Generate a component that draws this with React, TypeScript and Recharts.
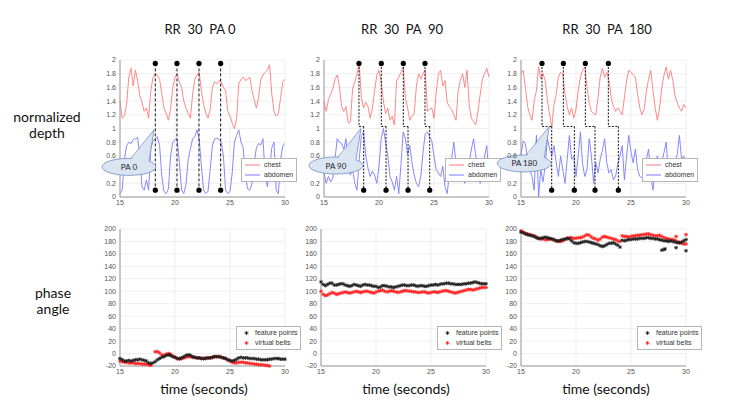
import React from 'react';
import {
  LineChart, Line, ScatterChart, Scatter, XAxis, YAxis, CartesianGrid,
  ReferenceLine, ReferenceDot, Legend,
} from 'recharts';

// sample times in seconds, shared by every trace
const time = [
  15, 15.2, 15.4, 15.6, 15.8, 16, 16.2, 16.4, 16.6, 16.8,
  17, 17.2, 17.4, 17.6, 17.8, 18, 18.2, 18.4, 18.6, 18.8,
  19, 19.2, 19.4, 19.6, 19.8, 20, 20.2, 20.4, 20.6, 20.8,
  21, 21.2, 21.4, 21.6, 21.8, 22, 22.2, 22.4, 22.6, 22.8,
  23, 23.2, 23.4, 23.6, 23.8, 24, 24.2, 24.4, 24.6, 24.8,
  25, 25.2, 25.4, 25.6, 25.8, 26, 26.2, 26.4, 26.6, 26.8,
  27, 27.2, 27.4, 27.6, 27.8, 28, 28.2, 28.4, 28.6, 28.8,
  29, 29.2, 29.4, 29.6, 29.8, 30,
];

const timeTicks = [15, 20, 25, 30];
const depthTicks = [0, 0.2, 0.4, 0.6, 0.8, 1, 1.2, 1.4, 1.6, 1.8, 2];
const angleTicks = [-20, 0, 20, 40, 60, 80, 100, 120, 140, 160, 180, 200];
// depth tick whose label sits under the callout bubble
const coveredDepthTick = 0.4;

// normalized depth, PA 0
const pa0Chest = [
  1.40, 1.15, 1.18, 1.35, 1.75, 1.88, 1.62, 1.85, 1.70, 1.48,
  1.38, 1.25, 1.30, 1.15, 1.55, 1.75, 1.80, 1.78, 1.72, 1.50,
  1.30, 1.22, 1.12, 1.28, 1.60, 1.75, 1.80, 1.68, 1.60, 1.40,
  1.30, 1.22, 1.15, 1.50, 1.72, 1.78, 1.82, 1.55, 1.35, 1.22,
  1.15, 1.28, 1.60, 1.68, 1.65, 1.70, 1.68, 1.60, 1.55, 1.25,
  1.18, 1.08, 1.00, 1.15, 1.65, 1.72, 1.75, 1.70, 1.72, 1.75,
  1.55, 1.42, 1.30, 1.45, 1.72, 1.78, 1.82, 1.85, 1.93, 1.50,
  1.25, 1.18, 1.22, 1.45, 1.68, 1.72,
];
const pa0Abdomen = [
  0.05, 0.10, 0.55, 0.75, 0.80, 0.78, 0.84, 0.85, 0.87, 0.60,
  0.15, 0.10, 0.25, 0.10, 0.70, 0.82, 0.85, 0.88, 0.75, 0.30,
  0.08, 0.05, 0.12, 0.60, 0.80, 0.84, 0.85, 0.50, 0.10, 0.05,
  0.18, 0.55, 0.70, 0.85, 0.88, 0.98, 0.85, 0.45, 0.10, 0.05,
  0.08, 0.40, 0.75, 0.85, 0.86, 0.84, 0.80, 0.60, 0.10, 0.05,
  0.08, 0.35, 0.80, 0.90, 0.98, 0.80, 0.72, 0.30, 0.12, 0.10,
  0.20, 0.50, 0.72, 0.78, 0.76, 0.85, 0.30, 0.15, 0.40, 0.72,
  0.80, 0.10, 0.05, 0.55, 0.75, 0.78,
];

// normalized depth, PA 90
const pa90Chest = [
  1.40, 1.25, 1.42, 1.50, 1.58, 1.72, 1.78, 1.62, 1.32, 1.25,
  1.32, 1.08, 1.10, 1.58, 1.68, 1.80, 1.95, 1.45, 1.30, 1.38,
  1.32, 1.15, 1.30, 1.55, 1.78, 1.85, 1.68, 1.40, 1.22, 1.30,
  1.12, 1.18, 1.05, 1.70, 1.75, 1.82, 1.90, 1.45, 1.30, 1.12,
  1.18, 1.22, 1.62, 1.80, 1.72, 1.80, 1.86, 1.25, 1.28, 1.30,
  1.15, 1.52, 1.80, 1.85, 1.62, 1.70, 1.38, 1.32, 1.28, 1.20,
  1.12, 1.55, 1.70, 1.80, 1.60, 1.85, 1.35, 1.15, 1.10, 1.05,
  1.25, 1.50, 1.72, 1.80, 1.88, 1.75,
];
const pa90Abdomen = [
  0.35, 0.20, 0.30, 0.22, 0.28, 0.55, 0.85, 0.80, 0.78, 0.70,
  0.85, 0.45, 0.32, 0.40, 0.20, 0.10, 0.55, 0.90, 0.95, 0.60,
  0.42, 0.30, 0.38, 0.32, 0.20, 0.45, 0.85, 1.00, 0.80, 0.60,
  0.30, 0.22, 0.10, 0.30, 0.05, 0.48, 0.95, 0.85, 0.62, 0.75,
  0.50, 0.32, 0.20, 0.15, 0.30, 0.65, 0.92, 0.95, 0.88, 0.82,
  0.60, 0.40, 0.35, 0.30, 0.45, 0.15, 0.05, 0.35, 0.55, 0.80,
  0.50, 0.35, 0.30, 0.45, 0.20, 0.35, 0.50, 0.70, 0.85, 0.60,
  0.30, 0.20, 0.28, 0.60, 0.75, 0.25,
];

// normalized depth, PA 180
const pa180Chest = [
  1.80, 1.85, 1.60, 1.32, 1.20, 1.12, 1.40, 1.55, 1.90, 1.72,
  1.80, 1.70, 1.42, 1.20, 1.02, 1.35, 1.50, 1.75, 1.82, 1.80,
  1.50, 1.32, 1.20, 1.30, 1.15, 1.28, 1.55, 1.75, 1.85, 1.90,
  1.60, 1.38, 1.25, 1.22, 1.20, 1.45, 1.75, 1.88, 1.75, 1.82,
  1.70, 1.45, 1.32, 1.25, 1.30, 1.25, 1.20, 1.45, 1.70, 1.85,
  1.82, 1.78, 1.75, 1.50, 1.30, 1.20, 1.28, 1.55, 1.72, 1.85,
  1.55, 1.30, 1.12, 1.30, 1.60, 1.78, 1.90, 1.72, 1.85, 1.70,
  1.48, 1.38, 1.30, 1.25, 1.35, 1.30,
];
const pa180Abdomen = [
  0.60, 0.82, 0.78, 0.55, 0.40, 0.30, 0.10, 0.90, 0.00, 0.40,
  0.22, 0.45, 0.85, 0.70, 0.60, 0.75, 0.50, 0.30, 0.60, 0.40,
  0.20, 0.55, 0.90, 0.55, 0.60, 0.30, 0.60, 0.95, 0.48, 0.30,
  0.40, 0.85, 0.60, 0.20, 0.50, 0.35, 0.55, 0.68, 0.85, 0.50,
  0.35, 0.40, 0.25, 0.30, 0.48, 0.60, 0.75, 0.25, 0.60, 0.90,
  0.65, 0.50, 0.70, 0.40, 0.30, 0.28, 0.25, 0.55, 0.70, 0.30,
  0.10, 0.50, 0.60, 0.35, 0.50, 0.65, 0.80, 0.35, 0.45, 0.30,
  0.50, 0.62, 0.90, 0.55, 0.60, 0.45,
];

// breath markers: times of the dots on top (chest) and bottom (abdomen)
const pa0TopMarks = [18.21, 20.18, 22.18, 24.15];
const pa0BottomMarks = [18.21, 20.18, 22.18, 24.15];
const pa90TopMarks = [18.18, 20.21, 22.21, 24.18];
const pa90BottomMarks = [18.61, 20.64, 22.64, 24.61];
const pa180TopMarks = [16.91, 18.85, 20.85, 22.94];
const pa180BottomMarks = [17.79, 19.85, 21.73, 23.85];

// phase angle, PA 0
const pa0Feature = [
  -8, -10, -12, -12, -11, -12, -11, -10, -10, -9,
  -10, -11, -12, -15, -16, -15, -13, -10, -8, -6,
  -5, -3, -2, -3, -5, -6, -8, -8, -7, -5,
  -3, -2, -3, -5, -6, -7, -7, -8, -8, -8,
  -7, -7, -6, -5, -5, -5, -6, -7, -8, -10,
  -11, -12, -11, -9, -7, -6, -7, -7, -7, -8,
  -8, -8, -9, -9, -10, -10, -10, -10, -9, -9,
  -8, -8, -8, -9, -9, -9,
];
const pa0Belt = [
  -12, -13, -14, -14, -15, -15, -15, -16, -16, -16,
  -17, -17, -17, -18, -19, null, 3, 3, 1, -2,
  -3, -1, 0, -1, -4, -6, -8, -9, -8, -7,
  -6, -5, -5, -6, -6, -7, -7, -8, -8, -7,
  -7, -7, -6, -5, -5, -5, -6, -7, -8, -10,
  -12, -14, -15, -15, -14, -14, -14, -15, -15, -16,
  -16, -17, -17, -18, -18, -18, -19, -19, -20, null,
  null, null, null, null, null, null,
];

// phase angle, PA 90
const pa90Feature = [
  115, 111, 109, 111, 113, 113, 110, 110, 111, 112,
  112, 110, 109, 108, 109, 111, 110, 109, 108, 110,
  111, 110, 110, 109, 108, 108, 106, 107, 109, 109,
  108, 107, 107, 106, 107, 108, 109, 110, 110, 109,
  109, 110, 110, 109, 108, 109, 109, 108, 108, 109,
  110, 110, 111, 110, 111, 112, 112, 113, 113, 112,
  112, 111, 111, 111, 111, 112, 112, 113, 113, 114,
  115, 114, 113, 112, 112, 112,
];
const pa90Belt = [
  100, 95, 93, 94, 96, 98, 97, 95, 96, 97,
  98, 99, 98, 97, 98, 99, 100, 99, 98, 99,
  100, 100, 99, 98, 97, 99, 100, 101, 102, 100,
  99, 100, 101, 100, 99, 98, 99, 100, 101, 101,
  100, 100, 99, 99, 98, 98, 99, 99, 98, 97,
  98, 99, 99, 98, 99, 100, 101, 101, 100, 99,
  98, 97, 98, 99, 100, 101, 102, 103, 103, 102,
  103, 104, 105, 106, 106, 106,
];

// phase angle, PA 180
const pa180Feature = [
  195, 194, 192, 191, 190, 189, 188, 186, 185, 185,
  186, 187, 186, 185, 184, 183, 181, 181, 182, 183,
  184, 185, 184, 181, 178, 177, 177, 178, 179, 180,
  180, 179, 178, 177, 176, 175, 173, 172, 173, 175,
  177, 177, 178, 176, 174, 171, 182, 181, 182, 183,
  183, 184, 184, 184, 185, 185, 185, 186, 186, 185,
  185, 184, 184, 183, 182, 181, 181, 180, 181, 180,
  179, 178, 178, 179, 181, 183,
];
const pa180Belt = [
  197, 195, 193, 192, 191, 190, 189, 187, 185, 184,
  184, 183, 183, 184, 184, 182, 181, 180, 180, 181,
  183, 185, 186, 186, 185, 185, 186, 186, 187, 189,
  191, 190, 187, 185, 184, 182, 184, 187, 188, 187,
  186, 185, 184, 183, 181, 180, 189, 188, 188, 187,
  188, 189, 189, 190, 190, 191, 191, 192, 192, 191,
  190, 189, 189, 190, 188, 186, 185, 184, 183, 183,
  182, 180, 178, 177, 176, 176,
];
// isolated estimates away from the main tracks
const pa180FeatureStrayTimes = [27.8, 28.0, 28.1, 29.1, 30];
const pa180FeatureStrayValues = [166, 167, 168, 170, 165];
const pa180BeltStrayTimes = [29.1, 30];
const pa180BeltStrayValues = [188, 191];

const CHEST = '#ff7a7a';
const ABDOMEN = '#7a7aff';
const FEATURE = '#1c1c1c';
const BELT = '#ff1f1f';
const GUIDE = '#111';

const tickStyle = { fontSize: 7, fill: '#555', fontFamily: '"Liberation Sans", Arial, sans-serif' };

const pairs = (ts: number[], vs: (number | null)[]) =>
  ts.map((t, i) => ({ t, v: vs[i] })).filter((p) => p.v !== null);

// MATLAB-style '*' marker
const Star = (props: any) => {
  const { cx, cy, fill } = props;
  if (cx == null || cy == null) return <g />;
  const r = 1.9;
  const d = r * 0.72;
  return (
    <path
      d={`M${cx - r},${cy}h${2 * r}M${cx},${cy - r}v${2 * r}M${cx - d},${cy - d}l${2 * d},${2 * d}M${cx - d},${cy + d}l${2 * d},${-2 * d}`}
      stroke={fill}
      strokeWidth={0.85}
      fill="none"
    />
  );
};

// oval speech bubble whose pointer ends at the reference point
const callout = (label: string) => (props: any) => {
  const { cx, cy } = props;
  const ex = cx - 25;
  const ey = cy + 37;
  const rx = 27;
  const ry = 8.5;
  const b1 = ex + 2;
  const b2 = ex + 20;
  const y1 = ey - ry * Math.sqrt(1 - (2 / rx) ** 2);
  const y2 = ey - ry * Math.sqrt(1 - (20 / rx) ** 2);
  return (
    <g>
      <ellipse cx={ex} cy={ey} rx={rx} ry={ry} fill="#dbe5f1" stroke="#6f8fc0" strokeWidth={0.8} />
      <path d={`M${b1},${y1 + 1.5}L${cx},${cy}L${b2},${y2 + 1.5}Z`} fill="#dbe5f1" />
      <path d={`M${b1},${y1}L${cx},${cy}L${b2},${y2}`} fill="none" stroke="#6f8fc0" strokeWidth={0.8} />
      <text x={ex} y={ey + 3} textAnchor="middle" fontSize={8} fill="#222" fontFamily="Lato, sans-serif">
        {label}
      </text>
    </g>
  );
};

const KeyBox = ({ items, sample }: { items: { name: string; color: string; marker: boolean }[]; sample: number }) => (
  <div
    style={{
      border: '1px solid #b5b5b5',
      background: '#fff',
      padding: '1px 3px 1px 1px',
      fontFamily: '"Liberation Sans", Arial, sans-serif',
      fontSize: 7,
      color: '#333',
      lineHeight: '10px',
      whiteSpace: 'nowrap',
    }}
  >
    {items.map((it) => (
      <div key={it.name} style={{ display: 'flex', alignItems: 'center' }}>
        <svg width={sample} height={10}>
          {it.marker ? (
            <Star cx={sample / 2 + 1} cy={5} fill={it.color} />
          ) : (
            <line x1={2} x2={sample - 2} y1={5} y2={5} stroke={it.color} strokeWidth={1} />
          )}
        </svg>
        <span style={{ marginLeft: 2 }}>{it.name}</span>
      </div>
    ))}
  </div>
);

type DepthProps = {
  plotLeft: number;
  chest: number[];
  abdomen: number[];
  topMarks: number[];
  bottomMarks: number[];
  tip: [number, number];
  label: string;
};

const MARK_TOP = 1.95;
const MARK_BOTTOM = 0.1;
const MARK_STEP = 1.03;

function DepthPanel({ plotLeft, chest, abdomen, topMarks, bottomMarks, tip, label }: DepthProps) {
  const data = time.map((t, i) => ({ t, chest: chest[i], abdomen: abdomen[i] }));
  return (
    <div style={{ position: 'absolute', left: plotLeft - 40, top: 52 }}>
      <LineChart width={225} height={165} data={data} margin={{ top: 8, right: 20, bottom: 0, left: 0 }}>
        <CartesianGrid stroke="#e8e8e8" strokeWidth={0.7} />
        <XAxis
          type="number" dataKey="t" domain={[15, 30]} ticks={timeTicks} height={20} interval={0}
          tick={tickStyle} tickLine={false} tickSize={0} axisLine={{ stroke: '#999' }} tickMargin={3}
        />
        <YAxis
          type="number" domain={[0, 2]} ticks={depthTicks} width={40} interval={0}
          tickFormatter={(v: number) => (v === coveredDepthTick ? '' : String(v))}
          tick={tickStyle} tickLine={false} tickSize={0} axisLine={{ stroke: '#999' }} tickMargin={4}
        />
        <Line dataKey="chest" stroke={CHEST} strokeWidth={0.9} dot={false} isAnimationActive={false} />
        <Line dataKey="abdomen" stroke={ABDOMEN} strokeWidth={0.9} dot={false} isAnimationActive={false} />
        {topMarks.map((x, i) => {
          const xb = bottomMarks[i];
          if (x === xb) {
            return (
              <ReferenceLine key={`g${i}`} segment={[{ x, y: MARK_TOP }, { x, y: MARK_BOTTOM }]}
                stroke={GUIDE} strokeWidth={1} strokeDasharray="3 2" />
            );
          }
          return (
            <React.Fragment key={`g${i}`}>
              <ReferenceLine segment={[{ x, y: MARK_TOP }, { x, y: MARK_STEP }]}
                stroke={GUIDE} strokeWidth={1} strokeDasharray="2 1.5" />
              <ReferenceLine segment={[{ x, y: MARK_STEP }, { x: xb, y: MARK_STEP }]}
                stroke={GUIDE} strokeWidth={1} strokeDasharray="2 1.5" />
              <ReferenceLine segment={[{ x: xb, y: MARK_STEP }, { x: xb, y: MARK_BOTTOM }]}
                stroke={GUIDE} strokeWidth={1} strokeDasharray="2 1.5" />
            </React.Fragment>
          );
        })}
        {topMarks.map((x, i) => (
          <ReferenceDot key={`t${i}`} x={x} y={MARK_TOP} r={2.6} fill="#000" stroke="none" />
        ))}
        {bottomMarks.map((x, i) => (
          <ReferenceDot key={`b${i}`} x={x} y={MARK_BOTTOM} r={2.6} fill="#000" stroke="none" />
        ))}
        <ReferenceDot x={tip[0]} y={tip[1]} shape={callout(label)} />
        <Legend
          layout="horizontal" verticalAlign="middle" align="center"
          wrapperStyle={{ left: 161, top: 106, width: 'auto', height: 'auto' }}
          content={() => (
            <KeyBox sample={19} items={[
              { name: 'chest', color: CHEST, marker: false },
              { name: 'abdomen', color: ABDOMEN, marker: false },
            ]} />
          )}
        />
      </LineChart>
    </div>
  );
}

type AngleProps = {
  plotLeft: number;
  feature: (number | null)[];
  belt: (number | null)[];
  featureStray?: { t: number; v: number }[];
  beltStray?: { t: number; v: number }[];
};

function AnglePanel({ plotLeft, feature, belt, featureStray = [], beltStray = [] }: AngleProps) {
  return (
    <div style={{ position: 'absolute', left: plotLeft - 40, top: 221 }}>
      <ScatterChart width={226} height={165} margin={{ top: 8, right: 21, bottom: 0, left: 0 }}>
        <CartesianGrid stroke="#e8e8e8" strokeWidth={0.7} />
        <XAxis
          type="number" dataKey="t" domain={[15, 30]} ticks={timeTicks} height={20} interval={0}
          tick={tickStyle} tickLine={false} tickSize={0} axisLine={{ stroke: '#999' }} tickMargin={3}
        />
        <YAxis
          type="number" dataKey="v" domain={[-20, 200]} ticks={angleTicks} width={40} interval={0}
          tick={tickStyle} tickLine={false} tickSize={0} axisLine={{ stroke: '#999' }} tickMargin={4}
        />
        <Scatter name="virtual belts" data={pairs(time, belt)} fill={BELT} shape={Star} isAnimationActive={false} />
        <Scatter name="virtual belts extra" data={beltStray} fill={BELT} shape={Star} isAnimationActive={false} />
        <Scatter name="feature points" data={pairs(time, feature)} fill={FEATURE} shape={Star} isAnimationActive={false} />
        <Scatter name="feature points extra" data={featureStray} fill={FEATURE} shape={Star} isAnimationActive={false} />
        <Legend
          layout="horizontal" verticalAlign="middle" align="center"
          wrapperStyle={{ left: 156, top: 105, width: 'auto', height: 'auto' }}
          content={() => (
            <KeyBox sample={15} items={[
              { name: 'feature points', color: FEATURE, marker: true },
              { name: 'virtual belts', color: BELT, marker: true },
            ]} />
          )}
        />
      </ScatterChart>
    </div>
  );
}

const label = (text: string, x: number, y: number, size = 14, lh = 16) => (
  <div
    style={{
      position: 'absolute', left: x, top: y, transform: 'translate(-50%, -50%)',
      fontSize: size, whiteSpace: 'pre', textAlign: 'center', lineHeight: `${lh}px`, color: '#111',
    }}
  >
    {text}
  </div>
);

export default function App() {
  const stray = (ts: number[], vs: number[]) => ts.map((t, i) => ({ t, v: vs[i] }));
  return (
    <div
      style={{
        position: 'absolute', left: 0, top: 0, width: 750, height: 417, background: '#fff',
        overflow: 'hidden', fontFamily: 'Lato, "Open Sans", sans-serif',
      }}
    >
      {label('RR  30  PA 0', 200, 29, 13)}
      {label('RR  30  PA  90', 402, 29, 13)}
      {label('RR  30  PA  180', 607, 29, 13)}
      {label('normalized\ndepth', 47, 125)}
      {label('phase\nangle', 53, 301)}

      <DepthPanel plotLeft={120} chest={pa0Chest} abdomen={pa0Abdomen}
        topMarks={pa0TopMarks} bottomMarks={pa0BottomMarks} tip={[18.09, 0.98]} label="PA 0" />
      <DepthPanel plotLeft={324} chest={pa90Chest} abdomen={pa90Abdomen}
        topMarks={pa90TopMarks} bottomMarks={pa90BottomMarks} tip={[18.36, 1.0]} label="PA 90" />
      <DepthPanel plotLeft={521} chest={pa180Chest} abdomen={pa180Abdomen}
        topMarks={pa180TopMarks} bottomMarks={pa180BottomMarks} tip={[17.57, 1.03]} label="PA 180" />

      <AnglePanel plotLeft={120} feature={pa0Feature} belt={pa0Belt} />
      <AnglePanel plotLeft={321} feature={pa90Feature} belt={pa90Belt} />
      <AnglePanel plotLeft={521} feature={pa180Feature} belt={pa180Belt}
        featureStray={stray(pa180FeatureStrayTimes, pa180FeatureStrayValues)}
        beltStray={stray(pa180BeltStrayTimes, pa180BeltStrayValues)} />

      {label('time (seconds)', 204, 388, 14, 13)}
      {label('time (seconds)', 406, 388, 14, 13)}
      {label('time (seconds)', 606, 388, 14, 13)}
    </div>
  );
}
